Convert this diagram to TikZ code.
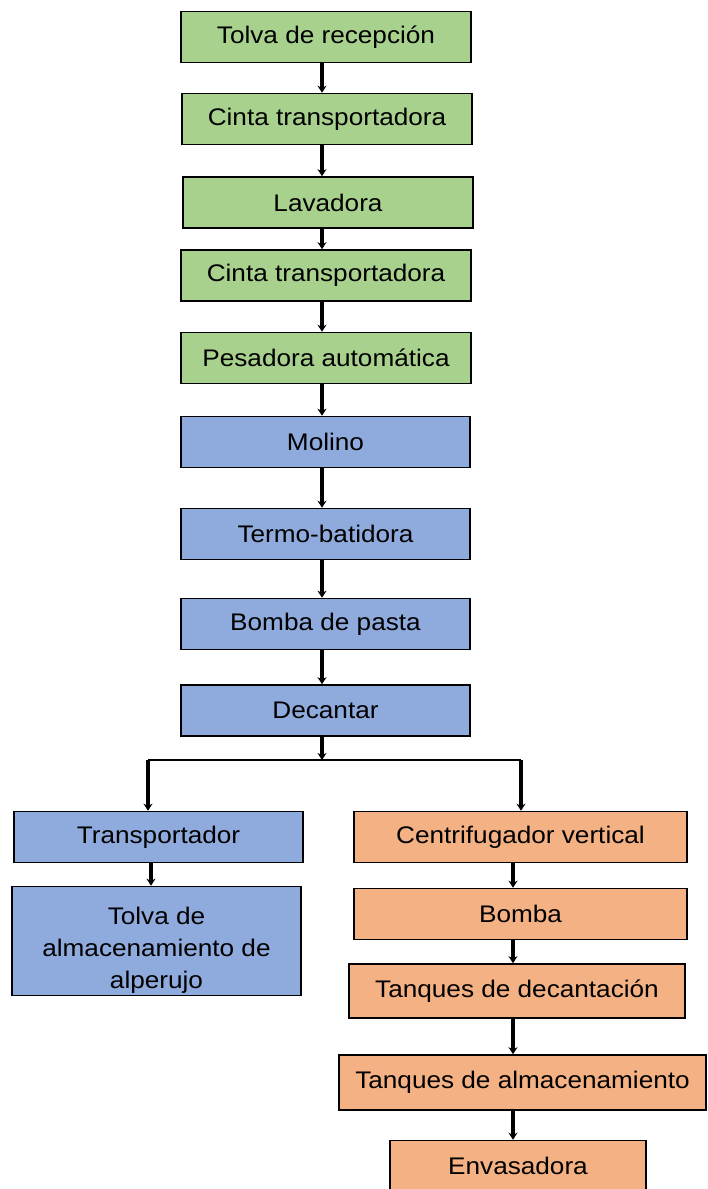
\documentclass[tikz,border=0pt]{standalone}
\usepackage{fontspec}
\setmainfont[FakeStretch=1.09]{Liberation Sans}
\usetikzlibrary{arrows.meta}
\definecolor{boxgreen}{HTML}{A9D18E}
\definecolor{boxblue}{HTML}{8FAADC}
\definecolor{boxorange}{HTML}{F4B183}

\begin{document}
\begin{tikzpicture}[x=1pt, y=-1pt,
  box/.style={draw=black, line width=1.6pt, inner sep=2pt, align=center, minimum height=51pt, font=\fontsize{24}{32}\selectfont},
  greenbox/.style={box, fill=boxgreen, minimum width=290pt},
  bluebox/.style={box, fill=boxblue, minimum width=289pt},
  orangebox/.style={box, fill=boxorange},
  flow/.style={line width=3.5pt, -{Stealth[length=7pt,width=9pt]}}]
        \useasboundingbox (0,0) rectangle (707,1189);

        % main column
        \node[greenbox] (tolva) at (326, 37) {Tolva de recepción};
        \node[greenbox] (cinta1) at (327, 119) {Cinta transportadora};
        \node[greenbox] (lavadora) at (328, 202.5) {Lavadora};
        \node[greenbox] (cinta2) at (326, 275.5) {Cinta transportadora};
        \node[greenbox] (pesadora) at (326, 358) {Pesadora automática};
        \node[bluebox] (molino) at (325.5, 442) {Molino};
        \node[bluebox] (termo) at (325.5, 534) {Termo-batidora};
        \node[bluebox] (bombapasta) at (325.5, 624) {Bomba de pasta};
        \node[bluebox] (decantar) at (325.5, 710.5) {Decantar};

        % left branch
        \node[bluebox] (transp) at (158.5, 837) {Transportador};
        \node[bluebox, minimum height=106pt] (tolvaalm) at (156.5, 941) {\rule{0pt}{36pt}Tolva de\\almacenamiento de\\alperujo};

        % right branch
        \node[orangebox, minimum width=333pt] (centrif) at (520.5, 837) {Centrifugador vertical};
        \node[orangebox, minimum width=333pt] (bomba) at (520.5, 914) {Bomba};
        \node[orangebox, minimum width=336pt, minimum height=54pt] (tanqdec) at (517, 991) {Tanques de decantación};
        \node[orangebox, minimum width=367pt, minimum height=55pt] (tanqalm) at (522.5, 1082.5) {Tanques de almacenamiento};
        \node[orangebox, minimum width=256pt] (envasa) at (518, 1166) {Envasadora};

        \coordinate (split) at (322, 760);
        \coordinate (splitL) at (148, 760);
        \coordinate (splitR) at (521, 760);

        \draw[flow] (322, 0 |- tolva.south) -- (322, 0 |- cinta1.north);
        \draw[flow] (322, 0 |- cinta1.south) -- (322, 0 |- lavadora.north);
        \draw[flow] (322, 0 |- lavadora.south) -- (322, 0 |- cinta2.north);
        \draw[flow] (322, 0 |- cinta2.south) -- (322, 0 |- pesadora.north);
        \draw[flow] (322, 0 |- pesadora.south) -- (322, 0 |- molino.north);
        \draw[flow] (322, 0 |- molino.south) -- (322, 0 |- termo.north);
        \draw[flow] (322, 0 |- termo.south) -- (322, 0 |- bombapasta.north);
        \draw[flow] (322, 0 |- bombapasta.south) -- (322, 0 |- decantar.north);
        \draw[flow] (split |- decantar.south) -- (split);

        \draw[line width=2pt] (splitL) -- (splitR);
        \draw[flow] (splitL) -- (splitL |- transp.north);
        \draw[flow] (splitR) -- (splitR |- centrif.north);

        \draw[flow] (151, 0 |- transp.south) -- (151, 0 |- tolvaalm.north);
        \draw[flow] (513, 0 |- centrif.south) -- (513, 0 |- bomba.north);
        \draw[flow] (513, 0 |- bomba.south) -- (513, 0 |- tanqdec.north);
        \draw[flow] (513, 0 |- tanqdec.south) -- (513, 0 |- tanqalm.north);
        \draw[flow] (513, 0 |- tanqalm.south) -- (513, 0 |- envasa.north);
      \end{tikzpicture}
\end{document}
